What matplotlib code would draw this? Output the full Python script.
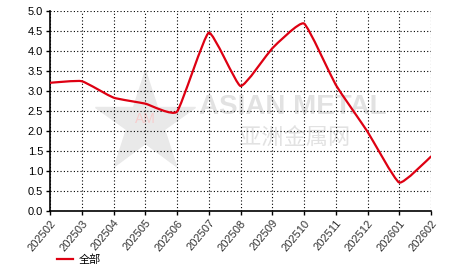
import numpy as np
import matplotlib.pyplot as plt
from matplotlib.path import Path
from matplotlib.patches import PathPatch
from matplotlib.lines import Line2D

months = ['202502', '202503', '202504', '202505', '202506', '202507', '202508',
          '202509', '202510', '202511', '202512', '202601', '202602']
values = [3.20, 3.24, 2.83, 2.68, 2.48, 4.45, 3.12, 4.06, 4.68, 3.15, 1.98, 0.71, 1.36]
series_name = '全部'

plt.rcParams['font.family'] = ['Liberation Sans', 'DejaVu Sans']

fig = plt.figure(figsize=(4.66, 2.72), dpi=100)
ax = fig.add_axes([0.1073, 0.2243, 0.8176, 0.7364])

x = np.arange(len(months), dtype=float)
y = np.array(values)

# lightly smoothed line (low-tension Catmull-Rom as cubic bezier)
t = 0.07
verts = [(x[0], y[0])]
codes = [Path.MOVETO]
for i in range(len(x) - 1):
    p0 = (x[max(i - 1, 0)], y[max(i - 1, 0)])
    p1 = (x[i], y[i])
    p2 = (x[i + 1], y[i + 1])
    p3 = (x[min(i + 2, len(x) - 1)], y[min(i + 2, len(x) - 1)])
    verts += [(p1[0] + (p2[0] - p0[0]) * t, p1[1] + (p2[1] - p0[1]) * t),
              (p2[0] - (p3[0] - p1[0]) * t, p2[1] - (p3[1] - p1[1]) * t),
              p2]
    codes += [Path.CURVE4] * 3
line_color = '#de0012'
ax.add_patch(PathPatch(Path(verts, codes), fill=False, edgecolor=line_color,
                       lw=1.6, zorder=3, capstyle='round', joinstyle='round'))

ax.set_xlim(0, len(months) - 1)
ax.set_ylim(0, 5)
ax.set_xticks(x)
ax.set_xticklabels(months, rotation=50, ha='right', rotation_mode='anchor',
                   fontsize=8, color='#333333')
ax.set_yticks(np.arange(0, 5.01, 0.5))
ax.set_yticklabels([f'{v:.1f}' for v in np.arange(0, 5.01, 0.5)], fontsize=8)
ax.tick_params(axis='both', length=3, width=1, pad=2)
ax.grid(True, color='black', linestyle=(0, (1, 2)), linewidth=0.8)
for s in ['top', 'right']:
    ax.spines[s].set_visible(False)
for s in ['left', 'bottom']:
    ax.spines[s].set_linewidth(1.2)

# watermark
ax.plot([2.99], [2.2], marker='*', markersize=76, color='#e9e9e9',
        zorder=1, clip_on=False)
ax.text(2.99, 2.3, 'AM', color='#f7cccc', fontsize=10, ha='center', va='center', zorder=1)
ax.text(7.65, 2.59, 'ASIAN METAL', color='#e2e2e2', fontsize=20, fontweight='bold',
        ha='center', va='center', zorder=1)
ax.text(7.69, 1.84, '亚洲金属网', color='#e2e2e2', fontsize=16,
        family=['Noto Sans CJK SC', 'DejaVu Sans'], ha='center', va='center', zorder=1)

handle = Line2D([], [], color=line_color, lw=1.6)
fig.legend([handle], [series_name], loc='lower left', bbox_to_anchor=(0.1, -0.01),
           frameon=False, handlelength=1.5, handletextpad=0.5,
           prop={'family': ['Noto Sans CJK SC', 'DejaVu Sans'], 'size': 8})

fig.savefig('out.png', dpi=100)
